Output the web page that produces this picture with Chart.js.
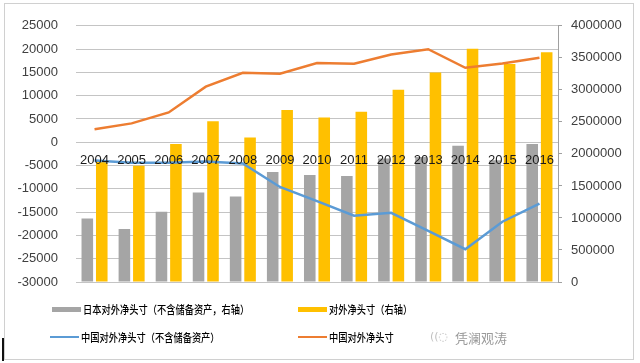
<!DOCTYPE html>
<html>
<head>
<meta charset="utf-8">
<script src="https://cdn.jsdelivr.net/npm/chart.js@4"></script>
<style>
  html, body { margin: 0; padding: 0; background: #fff; }
  #wrap { position: relative; width: 640px; height: 363px; overflow: hidden; }
  #frame { position: absolute; left: 4px; top: 3px; width: 628px; height: 355px; border: 1px solid #d0d0d0; }
  #mark { position: absolute; left: 2px; top: 338px; width: 2px; height: 23px; background: #111; }
  canvas { position: absolute; left: 0; top: 0; }
  .lg { position: absolute; font-family: "Noto Sans CJK SC", sans-serif; font-size: 11px; font-weight: 500; color: #000;
        transform: scaleX(0.84); transform-origin: left center; white-space: nowrap; line-height: 14px; }
  .sw { position: absolute; }
  #wm { position: absolute; left: 455px; top: 328px; font-family: "Noto Sans CJK SC", sans-serif;
        font-size: 13px; color: #9a9a9a; white-space: nowrap; }
  #wmi { position: absolute; left: 430px; top: 330px; font-size: 11px; color: #c0c0c0;
        font-family: "DejaVu Sans", sans-serif; }
</style>
</head>
<body>
<div id="wrap">
  <canvas id="chart" width="640" height="363"></canvas>
  <div id="frame"></div>
  <div id="mark"></div>
  <div id="legend"></div>
  <div id="wmi">((◌</div>
  <div id="wm">凭澜观涛</div>
</div>
<script>
// categories
const years = ['2004', '2005', '2006', '2007', '2008', '2009', '2010', '2011', '2012', '2013', '2014', '2015', '2016'];

// bars, right axis
const japanNetExReserves = [990000, 826000, 1098000, 1398000, 1336000, 1716000, 1670000, 1654000, 1930000, 1950000, 2129000, 1900000, 2155000];
const netPosition = [1882000, 1815000, 2155000, 2511000, 2257000, 2686000, 2567000, 2659000, 3000000, 3269000, 3640000, 3402000, 3587000];

// lines, left axis
const chinaNetExReserves = [-3900, -4410, -4410, -4115, -4540, -9600, -12650, -15780, -15140, -19040, -22960, -17060, -13160];
const chinaNet = [2770, 4050, 6400, 11940, 14930, 14710, 16990, 16840, 18830, 19970, 15990, 16910, 18120];

const labels = ['日本对外净头寸（不含储备资产，右轴）', '对外净头寸（右轴）', '中国对外净头寸（不含储备资产）', '中国对外净头寸'];
const colors = ['#a5a5a5', '#ffc000', '#5b9bd5', '#ed7d31'];

const tickFont = { family: 'Liberation Sans', size: 13 };
const plain = v => String(v);

new Chart(document.getElementById('chart'), {
  type: 'bar',
  data: {
    labels: years,
    datasets: [
      { label: labels[0], data: japanNetExReserves, backgroundColor: colors[0], yAxisID: 'y1', order: 2,
        categoryPercentage: 0.78, barPercentage: 0.8 },
      { label: labels[1], data: netPosition, backgroundColor: colors[1], yAxisID: 'y1', order: 2,
        categoryPercentage: 0.78, barPercentage: 0.8 },
      { type: 'line', label: labels[2], data: chinaNetExReserves, borderColor: colors[2], borderWidth: 2.5,
        pointRadius: 0, tension: 0, yAxisID: 'y', order: 1 },
      { type: 'line', label: labels[3], data: chinaNet, borderColor: colors[3], borderWidth: 2.5,
        pointRadius: 0, tension: 0, yAxisID: 'y', order: 1 },
    ],
  },
  options: {
    responsive: false,
    animation: false,
    layout: { padding: { left: 0, right: 0, top: 23, bottom: 81 } },
    plugins: { legend: { display: false }, tooltip: { enabled: false } },
    scales: {
      x: {
        position: { y: 0 },
        grid: { display: false, drawTicks: false },
        border: { display: false },
        // labels sit over the bars, like the original
        ticks: { z: 1, font: tickFont, color: '#1a1a1a', padding: 10, maxRotation: 0, autoSkip: false },
      },
      y: {
        position: 'left',
        min: -30000,
        max: 25000,
        ticks: { stepSize: 5000, font: tickFont, color: '#404040', padding: 18, callback: plain },
        grid: { color: '#c4c4c4', drawTicks: false },
        border: { display: false },
        afterFit: scale => { scale.width = 76; },
      },
      y1: {
        position: 'right',
        min: 0,
        max: 4000000,
        ticks: { stepSize: 500000, font: tickFont, color: '#404040', padding: 9, callback: plain },
        grid: { drawOnChartArea: false, color: '#a0a0a0', tickLength: 4 },
        border: { display: true, color: '#a0a0a0' },
        afterFit: scale => { scale.width = 82; },
      },
    },
  },
});

// 2x2 legend below the plot
const legendPos = [
  { x: 52, y: 309, line: false },
  { x: 298, y: 309, line: false },
  { x: 50, y: 337, line: true },
  { x: 298, y: 337, line: true },
];
const legend = document.getElementById('legend');
legendPos.forEach((p, i) => {
  let sw = document.createElement('div');
  sw.className = 'sw';
  let h = p.line ? 2.5 : 5;
  sw.style.left = p.x + 'px';
  sw.style.top = (p.y - h / 2) + 'px';
  sw.style.width = '29px';
  sw.style.height = h + 'px';
  sw.style.background = colors[i];
  legend.appendChild(sw);

  let t = document.createElement('div');
  t.className = 'lg';
  t.style.left = (p.x + 31) + 'px';
  t.style.top = (p.y - 7) + 'px';
  t.textContent = labels[i];
  legend.appendChild(t);
});
</script>
</body>
</html>
